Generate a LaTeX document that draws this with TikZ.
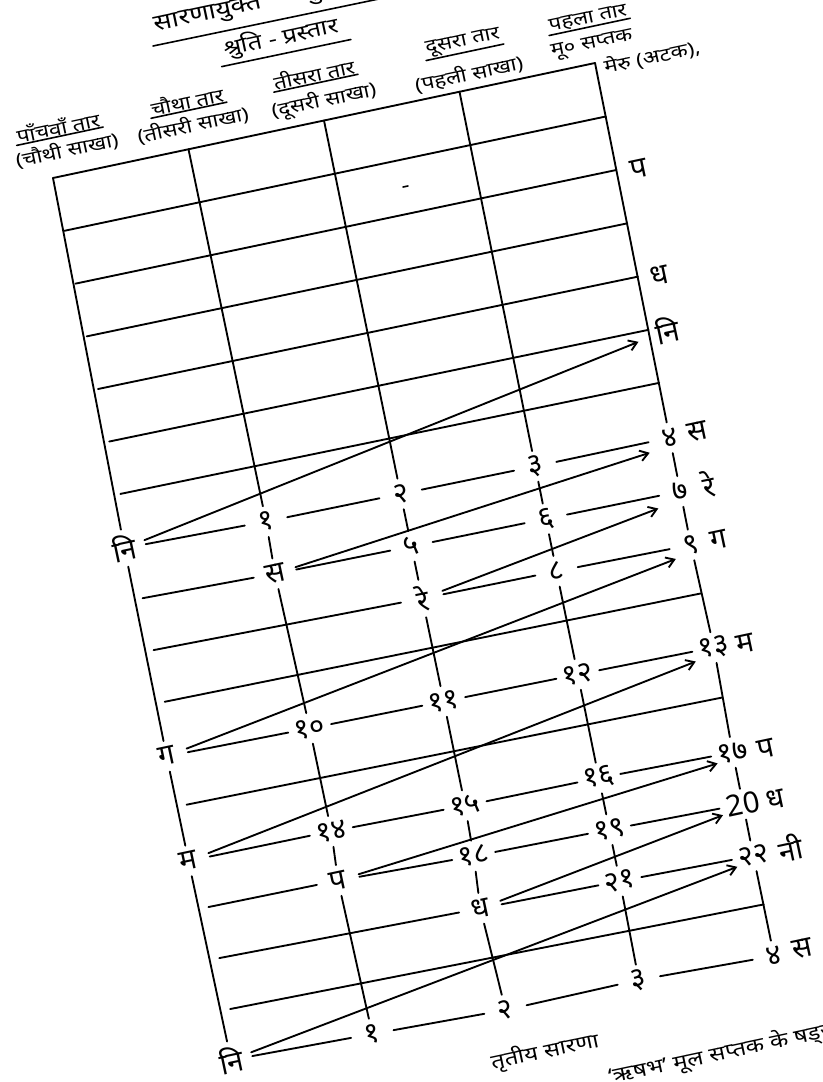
\documentclass[tikz,border=0pt]{standalone}
\usepackage{fontspec}
\newfontfamily\dev[Script=Devanagari]{Noto Sans}
\usetikzlibrary{arrows.meta,calc,shapes.geometric}
\begin{document}
\begin{tikzpicture}[x=0.75pt,y=-0.75pt,
  ln/.style={line width=1.4pt,line cap=round,line join=round},
  ul/.style={line width=1.2pt,line cap=round},
  lab/.style={ellipse,inner sep=0pt,minimum width=32pt,minimum height=23pt,
    font=\dev\fontsize{22}{22}\selectfont,rotate=12},
  side/.style={inner sep=0pt,font=\dev\fontsize{22}{22}\selectfont,rotate=12},
  hdr/.style={inner xsep=1pt,inner ysep=0.5pt,font=\dev\fontsize{14}{14}\selectfont,rotate=12,xscale=1.2},
  arr/.style={ln,-{Straight Barb[length=6pt,width=8pt]}}]
\useasboundingbox (0,0) rectangle (823,1082);
\clip (0,0) rectangle (823,1082);
\fill[white] (0,0) rectangle (823,1082);
% grid points
\foreach \i in {0,...,4}{
  \foreach \j in {0,...,17}{
    \pgfmathsetmacro\J{\j+0.1*sin(180*\j/17)}
    \pgfmathsetmacro\px{53+135.5*\i+11.06*\J-0.132*\i*\J}
    \pgfmathsetmacro\py{178-28.75*\i+51.88*\J+0.162*\i*\J}
    \coordinate (p\i-\j) at (\px,\py);
  }
}
% labels on the grid
\node[lab] (L0-7) at ($(p0-7)+(-7,2)$) {नि};
\node[lab] (L1-7) at ($(p1-7)+(0,3)$) {१};
\node[lab] (L2-7) at ($(p2-7)+(0,3)$) {२};
\node[lab] (L3-7) at ($(p3-7)+(0,3)$) {३};
\node[lab] (L4-7) at ($(p4-7)+(0,2)$) {४};
\node[lab] (L1-8) at ($(p1-8)+(-2,3)$) {स};
\node[lab] (L2-8) at ($(p2-8)+(0,3)$) {५};
\node[lab] (L3-8) at ($(p3-8)+(0,3)$) {६};
\node[lab] (L4-8) at ($(p4-8)+(0,3)$) {७};
\node[lab] (L2-9) at ($(p2-9)+(0,3)$) {रे};
\node[lab] (L3-9) at ($(p3-9)+(0,3)$) {८};
\node[lab] (L4-9) at ($(p4-9)+(0,4)$) {९};
\node[lab] (L0-11) at ($(p0-11)+(-9,3)$) {ग};
\node[lab] (L1-11) at ($(p1-11)+(0,2)$) {१०};
\node[lab] (L2-11) at ($(p2-11)+(0,2)$) {११};
\node[lab] (L3-11) at ($(p3-11)+(0,2)$) {१२};
\node[lab] (L4-11) at ($(p4-11)+(2,2)$) {१३};
\node[lab] (L0-13) at ($(p0-13)+(-9,5)$) {म};
\node[lab] (L1-13) at ($(p1-13)+(0,2)$) {१४};
\node[lab] (L2-13) at ($(p2-13)+(0,3)$) {१५};
\node[lab] (L3-13) at ($(p3-13)+(0,2)$) {१६};
\node[lab] (L4-13) at ($(p4-13)+(0,3)$) {१७};
\node[lab] (L1-14) at ($(p1-14)+(-4,0)$) {प};
\node[lab] (L2-14) at ($(p2-14)+(-2,2)$) {१८};
\node[lab] (L3-14) at ($(p3-14)+(0,2)$) {१९};
\node[lab] (L4-14) at ($(p4-14)+(0,3)$) {20};
\node[lab] (L2-15) at ($(p2-15)+(-6,3)$) {ध};
\node[lab] (L3-15) at ($(p3-15)+(0,2)$) {२१};
\node[lab] (L4-15) at ($(p4-15)+(0,3)$) {२२};
\node[lab] (L0-17) at ($(p0-17)+(-10,0)$) {नि};
\node[lab] (L1-17) at ($(p1-17)+(-2,0)$) {१};
\node[lab] (L2-17) at ($(p2-17)+(-2,2)$) {२};
\node[lab] (L3-17) at ($(p3-17)+(-2,-2)$) {३};
\node[lab] (L4-17) at ($(p4-17)+(0,0)$) {४};
% note names beside the first string
\node[side] (R7) at ($(p4-7)+(28,-4)$) {स};
\node[side] (R8) at ($(p4-8)+(28,-4)$) {रे};
\node[side] (R9) at ($(p4-9)+(28,-1)$) {ग};
\node[side] (R11) at ($(p4-11)+(33,-2)$) {म};
\node[side] (R13) at ($(p4-13)+(33,-1)$) {प};
\node[side] (R14) at ($(p4-14)+(32,-2)$) {ध};
\node[side] (R15) at ($(p4-15)+(37,-5)$) {नी};
\node[side] (R17) at ($(p4-17)+(28,-7)$) {स};
\node[side] (Q2) at ($(p4-2)+(22,-1)$) {प};
\node[side] (Q4) at ($(p4-4)+(22,-1)$) {ध};
\node[side] (Q5) at ($(p4-5)+(19,0)$) {नि};
% strings
\foreach \a/\b in {p0-0/L0-7, L0-7/L0-11, L0-11/L0-13, L0-13/L0-17,
  p1-0/L1-7, L1-7/L1-8, L1-8/L1-11, L1-11/L1-13, L1-13/L1-14, L1-14/L1-17,
  p2-0/L2-7, L2-7/L2-8, L2-8/L2-9, L2-9/L2-11, L2-11/L2-13, L2-13/L2-14, L2-14/L2-15, L2-15/L2-17,
  p3-0/L3-7, L3-7/L3-8, L3-8/L3-9, L3-9/L3-11, L3-11/L3-13, L3-13/L3-14, L3-14/L3-15, L3-15/L3-17,
  p4-0/L4-7, L4-7/L4-8, L4-8/L4-9, L4-9/L4-11, L4-11/L4-13, L4-13/L4-14, L4-14/L4-15, L4-15/L4-17}
  {\draw[ln] (\a) -- (\b);}
% frets
\foreach \j in {0,...,6,10,12,16}{\draw[ln] (p0-\j) -- (p4-\j);}
\foreach \a/\b in {L0-7/L1-7, L1-7/L2-7, L2-7/L3-7, L3-7/L4-7,
  p0-8/L1-8, L1-8/L2-8, L2-8/L3-8, L3-8/L4-8,
  p0-9/L2-9, L2-9/L3-9, L3-9/L4-9,
  L0-11/L1-11, L1-11/L2-11, L2-11/L3-11, L3-11/L4-11,
  L0-13/L1-13, L1-13/L2-13, L2-13/L3-13, L3-13/L4-13,
  p0-14/L1-14, L1-14/L2-14, L2-14/L3-14, L3-14/L4-14,
  p0-15/L2-15, L2-15/L3-15, L3-15/L4-15,
  L0-17/L1-17, L1-17/L2-17, L2-17/L3-17, L3-17/L4-17}
  {\draw[ln] (\a) -- (\b);}
% diagonal arrows
\coordinate (t1) at ($(p4-5)+(-10,12)$);
\coordinate (t2) at ($(p4-7)+(-20,17)$);
\coordinate (t3) at ($(p4-8)+(-22,20)$);
\coordinate (t4) at ($(p4-9)+(-15,18)$);
\coordinate (t5) at ($(p4-11)+(-16,16)$);
\coordinate (t6) at ($(p4-13)+(-15,14)$);
\coordinate (t7) at ($(p4-14)+(-20,14)$);
\coordinate (t8) at ($(p4-15)+(-16,14)$);
\foreach \a/\b in {L0-7/t1, L1-8/t2, L2-9/t3, L0-11/t4, L0-13/t5, L1-14/t6, L2-15/t7, L0-17/t8}
  {\draw[arr] (\a) -- (\b);}
% small mark
\coordinate (m1) at (403,187); \coordinate (m2) at (408,186);
\draw[ul] (m1) -- (m2);
% column headers
\node[hdr] (h5a) at (58,127) {पाँचवाँ तार};
\node[hdr] (h5b) at (67,150) {(चौथी साखा)};
\node[hdr] (h4a) at (187,101) {चौथा तार};
\node[hdr] (h4b) at (193,125) {(तीसरी साखा)};
\node[hdr] (h3a) at (314,74) {तीसरा तार};
\node[hdr] (h3b) at (324,101) {(दूसरी साखा)};
\node[hdr] (h2a) at (463,43) {दूसरा तार};
\node[hdr] (h2b) at (469,74) {(पहली साखा)};
\node[hdr] (h1a) at (588,19) {पहला तार};
\node[hdr] (h1b) at (592,45) {मू० सप्तक};
\node[hdr] (h1c) at (652,57) {मेरु (अटक),};
\foreach \n in {h5a,h4a,h3a,h2a,h1a}{\draw[ul] (\n.south west) -- (\n.south east);}
% titles
\node[hdr,font=\dev\bfseries\fontsize{17}{17}\selectfont] (ttl) at (208,16) {सारणायुक्त};
\node[hdr,font=\dev\bfseries\fontsize{17}{17}\selectfont] (ttl2) at (322,-10) {श्रुति};
\coordinate (tu1) at (153,46); \coordinate (tu2) at (470,-20);
\draw[ul] (tu1) -- (tu2);
\node[hdr,font=\dev\fontsize{16}{16}\selectfont] (sub) at (281,38) {श्रुति - प्रस्तार};
\draw[ul] ($(sub.south west)+(-3,3)$) -- ($(sub.south east)+(8,1)$);
% bottom text
\node[hdr,font=\dev\bfseries\fontsize{15}{15}\selectfont] (b1) at (545,1052) {तृतीय सारणा};
\node[hdr,anchor=west,font=\dev\fontsize{15}{15}\selectfont] (b2) at (607,1078) {‘ऋषभ’ मूल सप्तक के षड्ज};
\end{tikzpicture}
\end{document}
